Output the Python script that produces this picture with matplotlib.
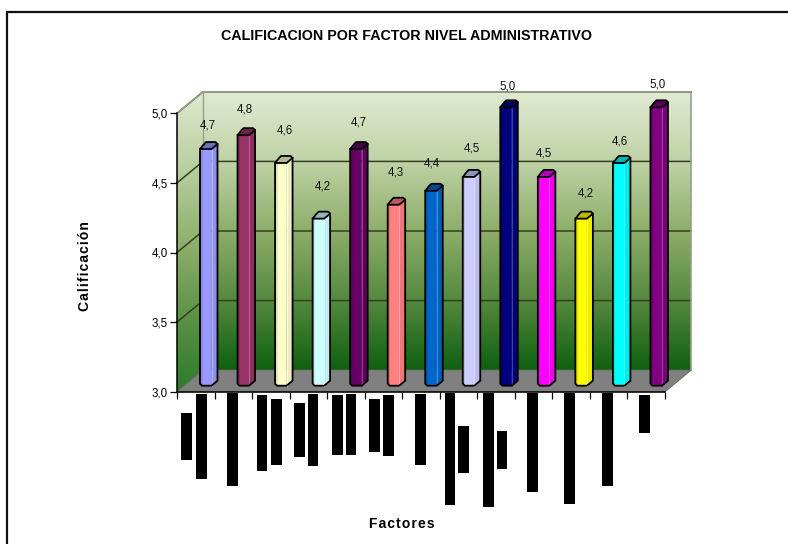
#!/usr/bin/env python3
"""Calificacion por factor, nivel administrativo: 3D-style column chart."""

import numpy as np
import matplotlib
matplotlib.use('Agg')
import matplotlib.pyplot as plt
from matplotlib.colors import LinearSegmentedColormap, to_rgb
from matplotlib.patches import Polygon

plt.rcParams['font.family'] = ['Liberation Sans', 'DejaVu Sans']

values = [4.7, 4.8, 4.6, 4.2, 4.7, 4.3, 4.4, 4.5, 5.0, 4.5, 4.2, 4.6, 5.0]
bar_colors = ['#9999ff', '#993366', '#ffffcc', '#ccffff', '#660066', '#ff8080', '#0066cc',
              '#ccccff', '#000080', '#ff00ff', '#ffff00', '#00ffff', '#800080']
y_ticks = [3.0, 3.5, 4.0, 4.5, 5.0]
y_tick_labels = ['3,0', '3,5', '4,0', '4,5', '5,0']

# small hand nudges for the value labels, in pixels
label_dx = [8, 7, 10, 10, 9, 8, 7, 9, 7, 6, 10, 7, 7]
label_dy = [24, 26, 32, 32, 27, 32, 27, 28, 21, 23, 25, 21, 23]

# covered category labels under the axis, in figure pixels
block_left = [181, 196, 227, 257, 271, 294, 308, 332, 346, 369,
              383, 415, 445, 458, 483, 497, 527, 564, 602, 639]
block_right = [192, 207, 238, 267, 282, 305, 318, 343, 356, 380,
               394, 426, 455, 469, 494, 507, 538, 575, 613, 650]
block_top = [413, 394, 393, 395, 399, 403, 394, 395, 394, 399,
             395, 394, 393, 426, 393, 431, 393, 393, 393, 395]
block_bottom = [460, 479, 486, 471, 465, 457, 466, 455, 455, 452,
                456, 465, 505, 473, 507, 469, 492, 504, 486, 433]

W, H = 788, 544
X0, X1 = 177, 665
Y3, Y5 = 391.7, 113.3
PX = len(values) / (X1 - X0)   # one pixel in x data units
PY = 2.0 / (Y3 - Y5)           # one pixel in y data units
DX, DY = 26 * PX, 21.5 * PY    # depth of the plot box
BAR_LIFT = 6.0 * PY            # columns stand partway into the floor


def shade(color, factor):
    return tuple(c * factor for c in to_rgb(color))


def mix(color, other, t):
    return tuple(a * (1 - t) + b * t for a, b in zip(to_rgb(color), to_rgb(other)))


def draw_column(ax, i, value, color):
    left = i + 23 * PX
    w, d = 11.5 * PX, 6.0 * PX
    base = 3.0 + BAR_LIFT
    top = value + BAR_LIFT
    rise = 7.0 * PY
    corner_x, corner_y = 2 * PX, 2 * PY

    # right side, front face, then the top cap
    ax.add_patch(Polygon([(left + w, base), (left + w + d, base + rise - corner_y),
                          (left + w + d, top + rise), (left + w, top)],
                         fc=shade(color, 0.93), ec='none', zorder=3, clip_on=False))
    ax.add_patch(Polygon([(left, base + corner_y), (left + corner_x, base), (left + w, base),
                          (left + w, top), (left, top)],
                         fc=color, ec='none', zorder=3, clip_on=False))
    ax.add_patch(Polygon([(left, top), (left + d - corner_x, top + rise - corner_y),
                          (left + d, top + rise), (left + w + d - corner_x, top + rise),
                          (left + w + d, top + rise - corner_y), (left + w, top)],
                         fc=shade(color, 0.72), ec='black', lw=1.3, zorder=4,
                         joinstyle='round', clip_on=False))
    # soft edge shading and the thin highlight on the rounded corner
    ax.plot([left + 1.5 * PX] * 2, [base + corner_y, top], color=shade(color, 0.88),
            lw=1.2, zorder=3, clip_on=False)
    ax.plot([left + w] * 2, [base, top], color=mix(color, 'white', 0.25), lw=0.8,
            zorder=3, clip_on=False)
    # outer outline of the column body
    ax.plot([left, left, left + corner_x, left + w, left + w + d, left + w + d],
            [top, base + corner_y, base, base, base + rise - corner_y, top + rise - corner_y],
            color='black', lw=1.3, zorder=5, clip_on=False, solid_joinstyle='round')


fig = plt.figure(figsize=(W / 100, H / 100), dpi=100, facecolor='white')
ax = fig.add_axes([X0 / W, 1 - Y3 / H, (X1 - X0) / W, (Y3 - Y5) / H])
ax.set_xlim(0, len(values))
ax.set_ylim(3, 5)
ax.patch.set_visible(False)

n = len(values)
wall_cmap = LinearSegmentedColormap.from_list(
    'wall', ['#e1ebd3', '#bfd2a6', '#8eae6a', '#55893f', '#0f6010'])
side_cmap = LinearSegmentedColormap.from_list(
    'side', ['#dfe9d0', '#b9cfa0', '#8fb06c', '#5c9246', '#2d7a2a'])
ramp = np.linspace(0, 1, 256).reshape(-1, 1)

# back wall
wall_box = [DX, n + DX, 3 + DY, 5 + DY]
back = Polygon([(DX, 3 + DY), (n + DX, 3 + DY), (n + DX, 5 + DY), (DX, 5 + DY)],
               transform=ax.transData, fc='none', ec='none')
ax.add_patch(back)
back.set_clip_on(False)
im = ax.imshow(ramp, cmap=wall_cmap, extent=wall_box, aspect='auto', zorder=0)
im.set_clip_box(fig.bbox)
im.set_clip_path(back)

# left wall
side = Polygon([(0, 3), (DX, 3 + DY), (DX, 5 + DY), (0, 5)],
               transform=ax.transData, fc='none', ec='none')
ax.add_patch(side)
side.set_clip_on(False)
im2 = ax.imshow(ramp, cmap=side_cmap, extent=[0, DX, 3, 5 + DY], aspect='auto', zorder=0)
im2.set_clip_box(fig.bbox)
im2.set_clip_path(side)

ax.set_xlim(0, n)
ax.set_ylim(3, 5)

# gridlines run across the back wall and down the left wall
for level in y_ticks[1:]:
    ax.plot([0, DX, n + DX], [level, level + DY, level + DY], color='#34401f', lw=1.1,
            zorder=1, clip_on=False)
ax.plot([0, DX, n + DX, n + DX], [5, 5 + DY, 5 + DY, 3 + DY], color='#969e90', lw=1.2,
        zorder=1, clip_on=False)
ax.plot([DX, DX], [3 + DY, 5 + DY], color='#969e90', lw=1.0, zorder=1, clip_on=False)

# floor
ax.add_patch(Polygon([(0, 3), (n, 3), (n + DX, 3 + DY), (DX, 3 + DY)], fc='#808080',
                     ec='#6a6f66', lw=0.8, zorder=2, clip_on=False))

for i, (value, color) in enumerate(zip(values, bar_colors)):
    draw_column(ax, i, value, color)
    ax.text(i + (23 + label_dx[i]) * PX, value + BAR_LIFT + label_dy[i] * PY,
            f'{value:.1f}'.replace('.', ','), ha='center', va='center', fontsize=8.3,
            color='#111111', zorder=6, clip_on=False)

ax.set_xticks(np.arange(n + 1))
ax.set_xticklabels([])
ax.set_yticks(y_ticks)
ax.set_yticklabels(y_tick_labels, fontsize=8.3)
ax.tick_params(axis='both', direction='out', length=5, width=0.9, color='black', pad=1.5)
for name in ('top', 'right'):
    ax.spines[name].set_visible(False)
for name in ('left', 'bottom'):
    ax.spines[name].set_color('black')
    ax.spines[name].set_linewidth(1.1)

# overlay in figure pixels for the outer frame and the label blocks
overlay = fig.add_axes([0, 0, 1, 1])
overlay.set_xlim(0, W)
overlay.set_ylim(H, 0)
overlay.axis('off')
overlay.patch.set_visible(False)
overlay.plot([7, 7, W], [H, 12, 12], color='#111111', lw=1.6)
overlay.bar(block_left, np.subtract(block_bottom, block_top),
            width=np.subtract(block_right, block_left), bottom=block_top,
            align='edge', color='black', linewidth=0)

fig.text(406 / W, 1 - 36 / H, 'CALIFICACION POR FACTOR NIVEL ADMINISTRATIVO', ha='center',
         va='center', fontsize=10.3, fontweight='bold', color='black')
fig.text(402 / W, 1 - 524 / H, '\u200a'.join('Factores'), ha='center', va='center',
         fontsize=10, fontweight='bold', color='black')
fig.text(85 / W, 1 - 266 / H, '\u200a'.join('Calificación'), ha='center', va='center',
         rotation=90, fontsize=10, fontweight='bold', color='black')

fig.savefig('out.png', dpi=100, facecolor='white')
